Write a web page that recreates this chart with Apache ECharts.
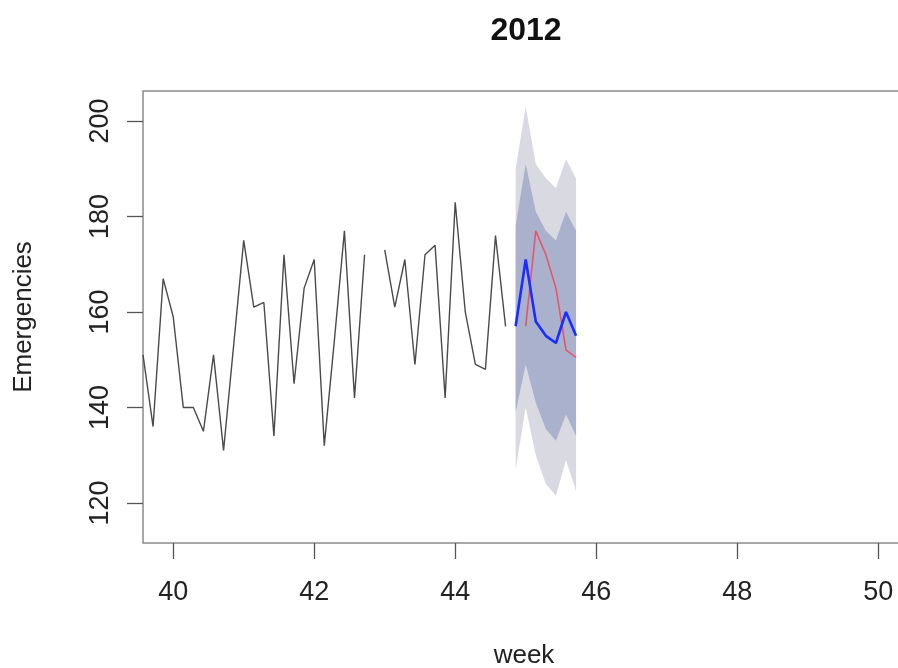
<!DOCTYPE html>
<html>
<head>
<meta charset="utf-8">
<script src="https://cdn.jsdelivr.net/npm/echarts@6/dist/echarts.min.js"></script>
<style>html,body{margin:0;padding:0;background:#fff;}#c{width:898px;height:668px;}</style>
</head>
<body>
<div id="c"></div>
<script>
// ---- data ----
const startWeek = 39 + 4 / 7;      // first daily observation (week units)
const dayStep = 1 / 7;
const observed = [151,136,167,159,140,140,135,151,131,153,175,161,162,134,172,145,165,171,132,154,177,142,172,null,173,161,171,149,172,174,142,183,160,149,148,176,157];
const fcStartIndex = 37;
const fcMean = [157, 171, 158, 155, 153.5, 160, 155];
const lo95 = [127, 140, 130, 124, 121.5, 129, 122.5];
const lo80 = [139, 149, 141, 135.5, 133, 138.5, 134];
const hi80 = [178, 191, 181, 177, 175, 181, 177];
const hi95 = [190, 203, 191, 188, 186, 192, 188];
const actualStartIndex = 38;
const actual = [157, 177, 172, 165, 152, 150.5];
const xTicks = [40, 42, 44, 46, 48, 50];
const yTicks = [120, 140, 160, 180, 200];
const title = '2012';

// ---- build ----
const wk = i => startWeek + i * dayStep;
const obsData = observed.map((v, i) => [wk(i), v]);
const fx = fcMean.map((_, j) => wk(fcStartIndex + j));
const meanData = fcMean.map((v, j) => [fx[j], v]);
const actData = actual.map((v, j) => [wk(actualStartIndex + j), v]);
const bandData = fx.map((x, j) => [x, lo95[j], lo80[j], hi80[j], hi95[j]]);

const FONT = 'Liberation Sans, Arial, sans-serif';
const LIGHT = '#d9d9e1', DARK = '#aab1cc';

function bandPolygon(api, lo, hi) {
  const pts = [];
  for (let j = 0; j < fx.length; j++) pts.push(api.coord([fx[j], hi[j]]));
  for (let j = fx.length - 1; j >= 0; j--) pts.push(api.coord([fx[j], lo[j]]));
  return pts;
}

const chart = echarts.init(document.getElementById('c'), null, { renderer: 'canvas' });
chart.setOption({
  animation: false,
  backgroundColor: '#fff',
  title: {
    text: title, left: 521, top: 10, textAlign: 'center',
    textStyle: { fontFamily: FONT, fontSize: 32, fontWeight: 'bold', color: '#111' }
  },
  grid: {
    left: 143, top: 91, width: 762, height: 452,
    outerBoundsMode: 'none', containLabel: false,
    show: true, borderColor: '#8a8a8a', borderWidth: 1.5, backgroundColor: 'transparent'
  },
  xAxis: {
    type: 'value', min: startWeek, max: 50.38,
    name: 'week', nameLocation: 'middle', nameGap: 100,
    nameTextStyle: { fontFamily: FONT, fontSize: 26, color: '#222' },
    axisLine: { show: false },
    splitLine: { show: false },
    axisTick: { show: true, inside: false, length: 16, customValues: xTicks, lineStyle: { color: '#555', width: 1.3 } },
    axisLabel: { customValues: xTicks, margin: 36, fontFamily: FONT, fontSize: 27, color: '#222' }
  },
  yAxis: {
    type: 'value', min: 111.6, max: 206.3,
    name: 'Emergencies', nameLocation: 'middle', nameGap: 106, nameRotate: 90,
    nameTextStyle: { fontFamily: FONT, fontSize: 26, color: '#222' },
    axisLine: { show: false },
    splitLine: { show: false },
    axisTick: { show: true, inside: false, length: 16, customValues: yTicks, lineStyle: { color: '#555', width: 1.3 } },
    axisLabel: { customValues: yTicks, rotate: 90, margin: 29, fontFamily: FONT, fontSize: 27, color: '#222' }
  },
  series: [
    {
      type: 'custom', data: bandData, silent: true, z: 1,
      encode: { x: 0, y: [1, 4] },
      renderItem: function (params, api) {
        if (params.dataIndex !== 0) return null;
        return {
          type: 'group',
          children: [
            { type: 'polygon', shape: { points: bandPolygon(api, lo95, hi95) }, style: { fill: LIGHT } },
            { type: 'polygon', shape: { points: bandPolygon(api, lo80, hi80) }, style: { fill: DARK } }
          ]
        };
      }
    },
    { type: 'line', data: obsData, symbol: 'none', connectNulls: false, lineStyle: { color: '#4a4a4a', width: 1.4 }, z: 3 },
    { type: 'line', data: actData, symbol: 'none', lineStyle: { color: '#e5566b', width: 1.6 }, z: 4 },
    { type: 'line', data: meanData, symbol: 'none', lineStyle: { color: '#1a2cff', width: 2.6 }, z: 5 }
  ]
});
</script>
</body>
</html>
